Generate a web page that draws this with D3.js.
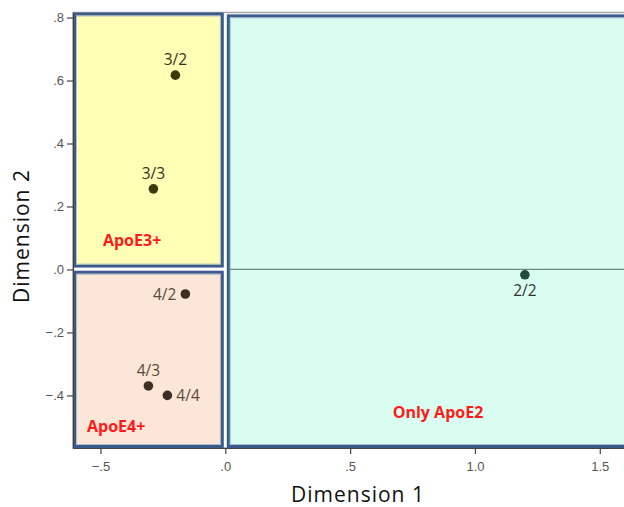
<!DOCTYPE html>
<html>
<head>
<meta charset="utf-8">
<script src="https://cdn.jsdelivr.net/npm/d3@7"></script>
<style>
  body { margin: 0; background: #fff; }
  svg { display: block; }
</style>
</head>
<body>
<svg id="chart" width="624" height="507"></svg>
<script>
// Genotype coordinates on the two MDS dimensions
const genotypes = ["3/2", "3/3", "4/2", "4/3", "4/4", "2/2"];
const dim1 = [-0.20, -0.288, -0.16, -0.308, -0.232, 1.20];
const dim2 = [0.617, 0.256, -0.078, -0.37, -0.40, -0.017];
const groupOf = ["e3", "e3", "e4", "e4", "e4", "e2"];
const labelSide = ["top", "top", "left", "top", "right", "bottom"];

// Axis tick values
const xTicks = [-0.5, 0, 0.5, 1.0, 1.5];
const yTicks = [0.8, 0.6, 0.4, 0.2, 0, -0.2, -0.4];

// Region names
const regionNames = ["ApoE3+", "ApoE4+", "Only ApoE2"];

const svg = d3.select("#chart");
const plot = { left: 73, right: 626, top: 12.5, bottom: 448 };

const x = d3.scaleLinear().domain([-0.61, 1.605]).range([plot.left, plot.right]);
const y = d3.scaleLinear().domain([-0.567, 0.816]).range([plot.bottom, plot.top]);

const fmt = v => {
  if (v === 0) return ".0";
  return Math.abs(v) >= 1 ? d3.format(".1f")(v) : d3.format(".1f")(v).replace("0.", ".");
};

// Plot frame
svg.append("rect")
  .attr("x", plot.left).attr("y", plot.top)
  .attr("width", plot.right - plot.left).attr("height", plot.bottom - plot.top)
  .attr("fill", "#fff").attr("stroke", "#a8a8a8").attr("stroke-width", 1.5);

// Region boxes (data-space extents)
const regions = [
  { fill: "#ffffb6", x0: -0.61, x1: -0.006, y0: 0.006, y1: 0.816 },
  { fill: "#fbe6d8", x0: -0.61, x1: -0.006, y0: -0.567, y1: -0.004 },
  { fill: "#d9fdf0", x0: 0.006, x1: 1.62, y0: -0.567, y1: 0.81 }
];
const gBoxes = svg.append("g");
regions.forEach(r => {
  const px0 = x(r.x0) + 1.5, px1 = x(r.x1) - 1.5;
  const py0 = y(r.y1) + 1.5, py1 = y(r.y0) - 1.5;
  gBoxes.append("rect")
    .attr("x", px0).attr("y", py0)
    .attr("width", px1 - px0).attr("height", py1 - py0)
    .attr("fill", r.fill).attr("stroke", "#3a5b8c").attr("stroke-width", 3);
  gBoxes.append("rect")
    .attr("x", px0 + 2).attr("y", py0 + 2)
    .attr("width", px1 - px0 - 4).attr("height", py1 - py0 - 4)
    .attr("fill", "none").attr("stroke", "#9fb0c8").attr("stroke-width", 0.8);
});

// Reference line at Dimension 2 = 0 across the right region
svg.append("line")
  .attr("x1", x(0) + 4).attr("x2", plot.right)
  .attr("y1", y(0)).attr("y2", y(0))
  .attr("stroke", "#6f8a80").attr("stroke-width", 1.3);

// Axes
const xAxis = d3.axisBottom(x).tickValues(xTicks).tickFormat(fmt).tickSize(6).tickSizeOuter(0);
const gx = svg.append("g").attr("transform", `translate(0,${plot.bottom})`).call(xAxis);
gx.select(".domain").attr("stroke", "#444").attr("stroke-width", 1.2);
gx.selectAll(".tick line").attr("stroke", "#444").attr("stroke-width", 1.2);
gx.selectAll(".tick text")
  .attr("font-family", "Liberation Sans, Arial, sans-serif").attr("font-size", 13)
  .attr("fill", "#555").attr("dy", "1.05em");

const yAxis = d3.axisLeft(y).tickValues(yTicks).tickFormat(fmt).tickSize(6).tickSizeOuter(0);
const gy = svg.append("g").attr("transform", `translate(${plot.left},0)`).call(yAxis);
gy.select(".domain").attr("stroke", "#444").attr("stroke-width", 1.2);
gy.selectAll(".tick line").attr("stroke", "#444").attr("stroke-width", 1.2);
gy.selectAll(".tick text")
  .attr("font-family", "Liberation Sans, Arial, sans-serif").attr("font-size", 13)
  .attr("fill", "#555").attr("x", -9);

// Axis titles
svg.append("text")
  .attr("x", 358).attr("y", 502)
  .attr("text-anchor", "middle")
  .attr("font-family", "Open Sans, sans-serif").attr("font-size", 21)
  .attr("letter-spacing", 1)
  .attr("fill", "#111").text("Dimension 1");
svg.append("text")
  .attr("transform", `translate(29,236) rotate(-90)`)
  .attr("text-anchor", "middle")
  .attr("font-family", "Open Sans, sans-serif").attr("font-size", 21)
  .attr("letter-spacing", 1)
  .attr("fill", "#111").text("Dimension 2");

// Region names
const regionPos = [
  { gx: -0.49, gy: 0.075, anchor: "start" },
  { gx: -0.554, gy: -0.516, anchor: "start" },
  { gx: 0.852, gy: -0.471, anchor: "middle" }
];
regionNames.forEach((n, i) => {
  const p = regionPos[i];
  svg.append("text")
    .attr("x", x(p.gx)).attr("y", y(p.gy))
    .attr("text-anchor", p.anchor)
    .attr("font-family", "Open Sans, sans-serif").attr("font-size", 16)
    .attr("font-weight", "bold").attr("fill", "#ff1a1a")
    .text(n);
});

// Points and labels
const pointColor = { e3: "#3b3a0c", e4: "#3d2f23", e2: "#1f4b3c" };
const labelColor = { e3: "#333320", e4: "#5a4a3a", e2: "#333" };
const gPts = svg.append("g");
genotypes.forEach((g, i) => {
  const cx = x(dim1[i]), cy = y(dim2[i]);
  gPts.append("circle").attr("cx", cx).attr("cy", cy).attr("r", 4.8)
    .attr("fill", pointColor[groupOf[i]]);
  let tx = cx, ty = cy, anchor = "middle";
  if (labelSide[i] === "top") { ty = cy - 10; }
  if (labelSide[i] === "bottom") { ty = cy + 21; }
  if (labelSide[i] === "left") { tx = cx - 9; ty = cy + 6; anchor = "end"; }
  if (labelSide[i] === "right") { tx = cx + 9; ty = cy + 6; anchor = "start"; }
  gPts.append("text").attr("x", tx).attr("y", ty)
    .attr("text-anchor", anchor)
    .attr("font-family", "Open Sans, sans-serif").attr("font-size", 15.5)
    .attr("fill", labelColor[groupOf[i]])
    .text(g);
});
</script>
</body>
</html>
